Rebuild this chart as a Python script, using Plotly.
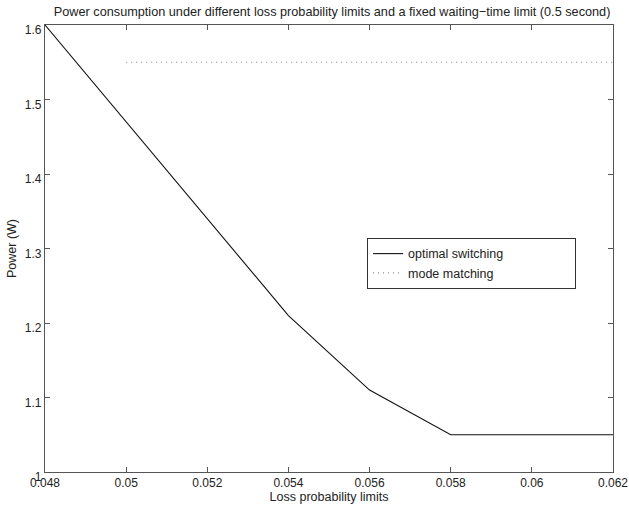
import plotly.graph_objects as go

x_opt = [0.048, 0.050, 0.052, 0.054, 0.056, 0.058, 0.060, 0.062]
y_opt = [1.60, 1.47, 1.34, 1.21, 1.11, 1.05, 1.05, 1.05]
x_mode = [0.050, 0.052, 0.054, 0.056, 0.058, 0.060, 0.062]
y_mode = [1.55, 1.55, 1.55, 1.55, 1.55, 1.55, 1.55]
x_ticks = [0.048, 0.05, 0.052, 0.054, 0.056, 0.058, 0.06, 0.062]
x_ticktext = ["0.048", "0.05", "0.052", "0.054", "0.056", "0.058", "0.06", "0.062"]
y_ticks = [1, 1.1, 1.2, 1.3, 1.4, 1.5, 1.6]
y_ticktext = ["1", "1.1", "1.2", "1.3", "1.4", "1.5", "1.6"]
series_names = ["optimal switching", "mode matching"]

pad = "\u00a0" * 19

fig = go.Figure()
fig.add_trace(go.Scatter(x=x_opt, y=y_opt, mode="lines", name=series_names[0] + pad,
                         line=dict(color="#111111", width=1.1)))
fig.add_trace(go.Scatter(x=x_mode, y=y_mode, mode="lines", name=series_names[1] + pad,
                         line=dict(color="#888888", width=1.2, dash="1px,4px")))

axis_common = dict(showgrid=False, zeroline=False, showline=True, mirror="ticks",
                   linecolor="#555555", linewidth=1.3, ticks="inside", ticklen=5,
                   tickcolor="#555555", tickfont=dict(size=12, color="#222222"),
                   automargin=False)

fig.update_layout(
    width=629, height=510,
    margin=dict(l=45, r=16, t=25, b=38),
    paper_bgcolor="white", plot_bgcolor="white",
    font=dict(family="Liberation Sans, Arial, sans-serif", size=12.5, color="#222222"),
    title=dict(text="Power consumption under different loss probability limits and a fixed waiting\u2212time limit (0.5 second)",
               x=0.528, xanchor="center", y=0.978, yanchor="middle", font=dict(size=12.7)),
    xaxis=dict(range=[0.048, 0.062], tickvals=x_ticks, ticktext=x_ticktext,
               ticklabelstandoff=-1,
               title=dict(text="Loss probability limits", standoff=3, font=dict(size=12.5)),
               **axis_common),
    yaxis=dict(range=[1, 1.6], tickvals=y_ticks, ticktext=y_ticktext,
               ticklabelshift=5,
               title=dict(text="Power (W)", standoff=5, font=dict(size=12.5)),
               **axis_common),
    legend=dict(x=0.567, y=0.5235, xanchor="left", yanchor="top",
                bgcolor="white", bordercolor="#333333", borderwidth=1,
                font=dict(size=12.5), tracegroupgap=0, itemwidth=30),
    showlegend=True,
)

fig.write_html("out.html", config={"displayModeBar": False},
               post_script="document.body.style.margin='0';")
